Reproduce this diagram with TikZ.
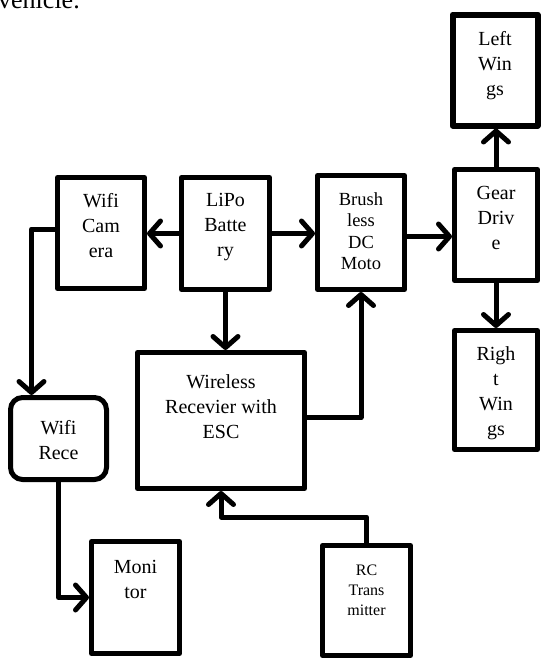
\documentclass[tikz,border=0pt]{standalone}
\usepackage{fontspec}
\setmainfont{Liberation Serif}
\usetikzlibrary{arrows.meta}
\begin{document}
\begin{tikzpicture}[x=1pt,y=-1pt,
  box/.style={draw, line width=5pt, line join=round, inner sep=0pt},
  txt/.style={align=center, inner sep=0pt, anchor=north, font=\fontsize{20}{25}\selectfont},
  smalltxt/.style={txt, font=\fontsize{18.5}{21.5}\selectfont},
  tinytxt/.style={txt, font=\fontsize{16}{20}\selectfont},
  arr/.style={line width=5pt, line cap=round, line join=round, -{Straight Barb[length=11pt,width=25pt,round]}}]
\useasboundingbox (0,0) rectangle (542,659);
% cut-off caption
\node[anchor=base west, inner sep=0pt, font=\fontsize{26}{30}\selectfont] (cap) at (-2,8.5) {vehicle.};
% boxes
\node[box, line width=6pt, minimum width=85pt, minimum height=111pt] (lw) at (495,70) {};
\node[box, minimum width=83pt, minimum height=111pt] (gear) at (496,225) {};
\node[box, minimum width=83pt, minimum height=119pt] (rw) at (496,390) {};
\node[box, minimum width=87pt, minimum height=114pt] (moto) at (361,232.5) {};
\node[box, minimum width=88pt, minimum height=112pt] (lipo) at (225.5,233.5) {};
\node[box, minimum width=87pt, minimum height=111pt] (cam) at (101,233) {};
\node[box, minimum width=167pt, minimum height=136pt] (wrx) at (221,420.5) {};
\node[box, rounded corners=12pt, minimum width=96pt, minimum height=82pt] (wfr) at (58.5,438.5) {};
\node[box, minimum width=88pt, minimum height=112pt] (mon) at (135.5,597.5) {};
\node[box, minimum width=88pt, minimum height=110pt] (rc) at (366.5,600.5) {};
% texts
\node[txt] (lwt) at (495,31.5) {Left\\Win\\gs};
\node[txt] (geart) at (496,186.5) {Gear\\Driv\\e};
\node[txt] (rwt) at (496,346.5) {Righ\\t\\Win\\gs};
\node[smalltxt] (motot) at (361,192) {Brush\\less\\DC\\Moto};
\node[txt] (lipot) at (225.5,193.5) {LiPo\\Batte\\ry};
\node[txt] (camt) at (101,193.5) {Wifi\\Cam\\era};
\node[txt] (wrxt) at (221,374.5) {Wireless\\Recevier with\\ESC};
\node[txt] (wfrt) at (58.5,420.5) {Wifi\\Rece};
\node[txt] (mont) at (135.5,560.5) {Moni\\tor};
\node[tinytxt] (rct) at (366.5,565) {RC\\Trans\\mitter};
% connectors
\draw[arr] (lipo.west) -- (lipo.west -| cam.east);
\draw[arr] (lipo.east) -- (lipo.east -| moto.west);
\draw[arr] (lipo.south) -- (lipo.south |- wrx.north);
\draw[arr] ([yshift=-4pt]moto.east) -- ([yshift=-4pt]moto.east -| gear.west);
\draw[arr] (gear.north) -- (gear.north |- lw.south);
\draw[arr] (gear.south) -- (gear.south |- rw.north);
\draw[arr] ([yshift=4pt]cam.west) -| ([xshift=-27pt]wfr.north);
\draw[arr] (wfr.south) |- (mon.west);
\draw[arr] (rc.north) |- ([yshift=-26pt]wrx.south) -- (wrx.south);
\draw[arr] ([yshift=3pt]wrx.east) -| (moto.south);
\end{tikzpicture}
\end{document}
